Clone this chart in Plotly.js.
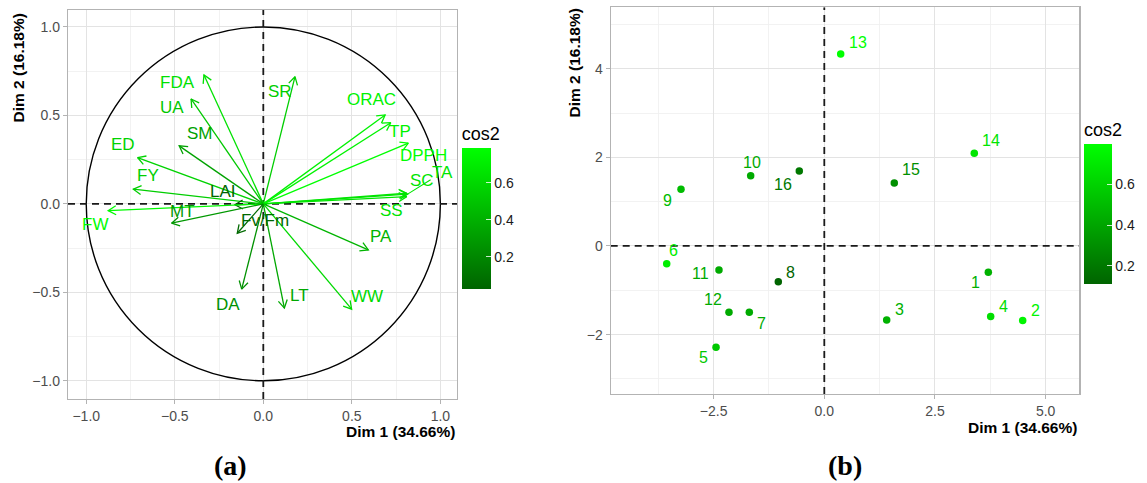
<!DOCTYPE html>
<html><head><meta charset="utf-8">
<script src="https://cdn.plot.ly/plotly-3.0.1.min.js"></script>
<style>html,body{margin:0;padding:0;background:#fff}#chart{width:1147px;height:483px}</style>
</head><body><div id="chart"></div>
<script>
// ---------- data: variables (panel a) ----------
const varNames = ['FDA','UA','SM','ED','FY','LAI','FW','MT','Fv/Fm','SR','ORAC','TP','DPPH','TA','SC','SS','PA','LT','WW','DA'];
const varDim1  = [-0.335,-0.408,-0.475,-0.710,-0.734,-0.160,-0.876,-0.518,-0.147,0.179,0.688,0.720,0.819,0.815,0.810,0.810,0.593,0.119,0.499,-0.122];
const varDim2  = [0.729,0.593,0.328,0.262,0.083,-0.005,-0.038,-0.109,-0.166,0.719,0.503,0.459,0.343,0.055,0.060,0.041,-0.260,-0.589,-0.595,-0.482];
const varCos2  = [0.643,0.518,0.333,0.573,0.546,0.026,0.769,0.280,0.049,0.549,0.726,0.729,0.789,0.667,0.660,0.658,0.420,0.361,0.603,0.247];
// ---------- data: individuals (panel b) ----------
const indNames = ['1','2','3','4','5','6','7','8','9','10','11','12','13','14','15','16'];
const indDim1  = [3.705,4.481,1.409,3.758,-2.446,-3.560,-1.694,-1.039,-3.237,-1.663,-2.379,-2.153,0.370,3.388,1.581,-0.565];
const indDim2  = [-0.593,-1.684,-1.669,-1.594,-2.285,-0.399,-1.496,-0.805,1.279,1.586,-0.541,-1.496,4.331,2.091,1.421,1.692];
const indCos2  = [0.45,0.75,0.45,0.65,0.55,0.72,0.42,0.11,0.50,0.42,0.42,0.42,0.795,0.68,0.30,0.20];
const xTitle = 'Dim 1 (34.66%)';
const yTitle = 'Dim 2 (16.18%)';
const cbTitle = 'cos2';
const panelLabels = ['(a)','(b)'];

// ---------- layout helpers (pixel offsets of repelled labels) ----------
const varLabelShift = [[-26,8],[-19,9],[21,-12],[-15,-13],[15,-14],[-12,-13],[-13,14],[11,-12],[28,-13],[-15,15],
                       [-14,-15],[9,9],[15,12],[35,-22],[15,-13],[-15,14],[13,-13],[15,-13],[15,-13],[-14,15]];
const indLabelShift = [[-13,10],[13,-10],[13,-10],[13,-10],[-13,10],[7,-13],[12,11],[12,-9],[-14,11],[1,-13],
                       [-18,4],[-16,-13],[17,-12],[17,-13],[17,-13],[-16,14]];

const W = 1147, H = 483;
const A = {x0:68, x1:457, y0:10, y1:399, xr:[-1.103,1.094], yr:[-1.103,1.096]};
const B = {x0:610.7, x1:1079.3, y0:7.3, y1:394, xr:[-4.825,5.76], yr:[-3.34,5.385]};
const LOW = [0,100,0], HIGH = [0,255,0];
const cscale = [[0,'rgb(0,100,0)'],[1,'rgb(0,255,0)']];
function col(v, arr){
  const mn = Math.min(...arr), mx = Math.max(...arr);
  const t = (v-mn)/(mx-mn);
  const c = LOW.map((l,i)=>Math.round(l+(HIGH[i]-l)*t));
  return `rgb(${c[0]},${c[1]},${c[2]})`;
}
const FONT = 'Liberation Sans, Arial, sans-serif';
const traces = [], annotations = [], shapes = [];

// panel a arrows
const sxA = (A.x1-A.x0)/(A.xr[1]-A.xr[0]), syA = (A.y1-A.y0)/(A.yr[1]-A.yr[0]);
const HEAD = 9, ANG = Math.PI/6;
varNames.forEach((n,i)=>{
  const x = varDim1[i], y = varDim2[i], c = col(varCos2[i], varCos2);
  const px = x*sxA, py = y*syA, L = Math.hypot(px,py), ux = px/L, uy = py/L;
  const h = s => { const ca=Math.cos(s*ANG), sa=Math.sin(s*ANG);
    const rx = ux*ca - uy*sa, ry = ux*sa + uy*ca;
    return [x - HEAD*rx/sxA, y - HEAD*ry/syA]; };
  const h1 = h(1), h2 = h(-1);
  traces.push({type:'scatter', mode:'lines', xaxis:'x', yaxis:'y', hoverinfo:'skip', showlegend:false,
    x:[0,x,null,h1[0],x,h2[0]], y:[0,y,null,h1[1],y,h2[1]], line:{color:c, width:1.3}});
  const s = varLabelShift[i];
  if (n === 'TA') {
    annotations.push({xref:'x', yref:'y', x:x, y:y, text:n, showarrow:true, ax:s[0], ay:s[1],
      arrowhead:0, arrowwidth:1.1, arrowcolor:c, standoff:0, font:{family:FONT, size:17, color:c}});
  } else {
    annotations.push({xref:'x', yref:'y', x:x, y:y, text:n, showarrow:false, xshift:s[0], yshift:-s[1],
      font:{family:FONT, size:17, color:c}});
  }
});
// colorbar carrier for panel a
traces.push({type:'scatter', mode:'markers', xaxis:'x', yaxis:'y', hoverinfo:'skip', showlegend:false,
  x:varDim1, y:varDim2, marker:{size:0.1, opacity:0, color:varCos2, colorscale:cscale, showscale:true,
  colorbar:{x:461.7/W, xanchor:'left', xpad:0, ypad:0, y:1-289/H, yanchor:'bottom', len:166, lenmode:'pixels',
    thickness:29, outlinewidth:0, tickvals:[0.2,0.4,0.6], ticktext:['0.2','0.4','0.6'], ticks:'inside', ticklen:5, tickcolor:'rgba(255,255,255,0.8)',
    tickfont:{family:FONT, size:14, color:'#1a1a1a'}, title:{text:cbTitle, side:'top', font:{family:FONT, size:18, color:'#000'}}}}});

// panel b points
traces.push({type:'scatter', mode:'markers', xaxis:'x2', yaxis:'y2', showlegend:false, hoverinfo:'text', text:indNames,
  x:indDim1, y:indDim2, marker:{size:7.5, color:indCos2, colorscale:cscale, showscale:true,
  colorbar:{x:1084/W, xanchor:'left', xpad:0, ypad:0, y:1-284.3/H, yanchor:'bottom', len:165, lenmode:'pixels',
    thickness:28, outlinewidth:0, tickvals:[0.2,0.4,0.6], ticktext:['0.2','0.4','0.6'], ticks:'inside', ticklen:5, tickcolor:'rgba(255,255,255,0.8)',
    tickfont:{family:FONT, size:14, color:'#1a1a1a'}, title:{text:cbTitle, side:'top', font:{family:FONT, size:18, color:'#000'}}}}});
indNames.forEach((n,i)=>{
  const s = indLabelShift[i];
  annotations.push({xref:'x2', yref:'y2', x:indDim1[i], y:indDim2[i], text:n, showarrow:false, xshift:s[0], yshift:-s[1],
    font:{family:FONT, size:16, color:col(indCos2[i], indCos2)}});
});

// circle + dashed axes
shapes.push({type:'circle', xref:'x', yref:'y', x0:-1, y0:-1, x1:1, y1:1, line:{color:'#000', width:1.4}, layer:'between'});
[['x','y',A],['x2','y2',B]].forEach(([xa,ya,P])=>{
  shapes.push({type:'line', xref:xa, yref:ya, x0:P.xr[0], x1:P.xr[1], y0:0, y1:0, line:{color:'#1a1a1a', width:1.8, dash:'7px,5px'}, layer:'between'});
  shapes.push({type:'line', xref:xa, yref:ya, x0:0, x1:0, y0:P.yr[0], y1:P.yr[1], line:{color:'#1a1a1a', width:1.8, dash:'7px,5px'}, layer:'between'});
});

// titles
[A,B].forEach((P,k)=>{
  annotations.push({xref:'paper', yref:'paper', x:P.x1/W, y:1-(k?427:431)/H, xanchor:'right', yanchor:'middle', showarrow:false,
    text:'<b>'+xTitle+'</b>', font:{family:FONT, size:15.5, color:'#000'}});
  annotations.push({xref:'paper', yref:'paper', x:(k?574:18.3)/W, y:1-(k?7:11.7)/H, xanchor:'center', yanchor:'top', showarrow:false, textangle:-90,
    text:'<b>'+yTitle+'</b>', font:{family:FONT, size:15.5, color:'#000'}});
});
annotations.push({xref:'paper', yref:'paper', x:230.7/W, y:1-465/H, xanchor:'center', yanchor:'middle', showarrow:false,
  text:'<b>'+panelLabels[0]+'</b>', font:{family:'Liberation Serif, Times New Roman, serif', size:28, color:'#000'}});
annotations.push({xref:'paper', yref:'paper', x:845/W, y:1-465/H, xanchor:'center', yanchor:'middle', showarrow:false,
  text:'<b>'+panelLabels[1]+'</b>', font:{family:'Liberation Serif, Times New Roman, serif', size:28, color:'#000'}});

function ax(P, isX, dtick, minorD, fmt){
  return {domain: isX ? [P.x0/W, P.x1/W] : [1-P.y1/H, 1-P.y0/H], range: isX ? P.xr : P.yr,
    tick0:0, dtick:dtick, tickformat:fmt, showgrid:true, gridcolor:'#e3e3e3', gridwidth:1, zeroline:false,
    minor:{tick0:0, dtick:minorD, showgrid:true, gridcolor:'#efefef', gridwidth:0.8, ticks:''},
    showline:true, mirror:true, linecolor:'#b3b3b3', linewidth:1.2, ticks:'outside', ticklen:4, tickcolor:'#b3b3b3', tickwidth:1,
    tickfont:{family:FONT, size:14, color:'#4d4d4d'}, fixedrange:true};
}
const layout = {width:W, height:H, margin:{l:0,r:0,t:0,b:0}, paper_bgcolor:'#fff', plot_bgcolor:'#fff', showlegend:false,
  xaxis: Object.assign(ax(A,true,0.5,0.25,'.1f'), {anchor:'y'}),
  yaxis: Object.assign(ax(A,false,0.5,0.25,'.1f'), {anchor:'x'}),
  xaxis2: Object.assign(ax(B,true,2.5,1.25,'.1f'), {anchor:'y2'}),
  yaxis2: Object.assign(ax(B,false,2,1,'d'), {anchor:'x2'}),
  shapes:shapes, annotations:annotations};
Plotly.newPlot('chart', traces, layout, {staticPlot:true, displayModeBar:false});
</script></body></html>
